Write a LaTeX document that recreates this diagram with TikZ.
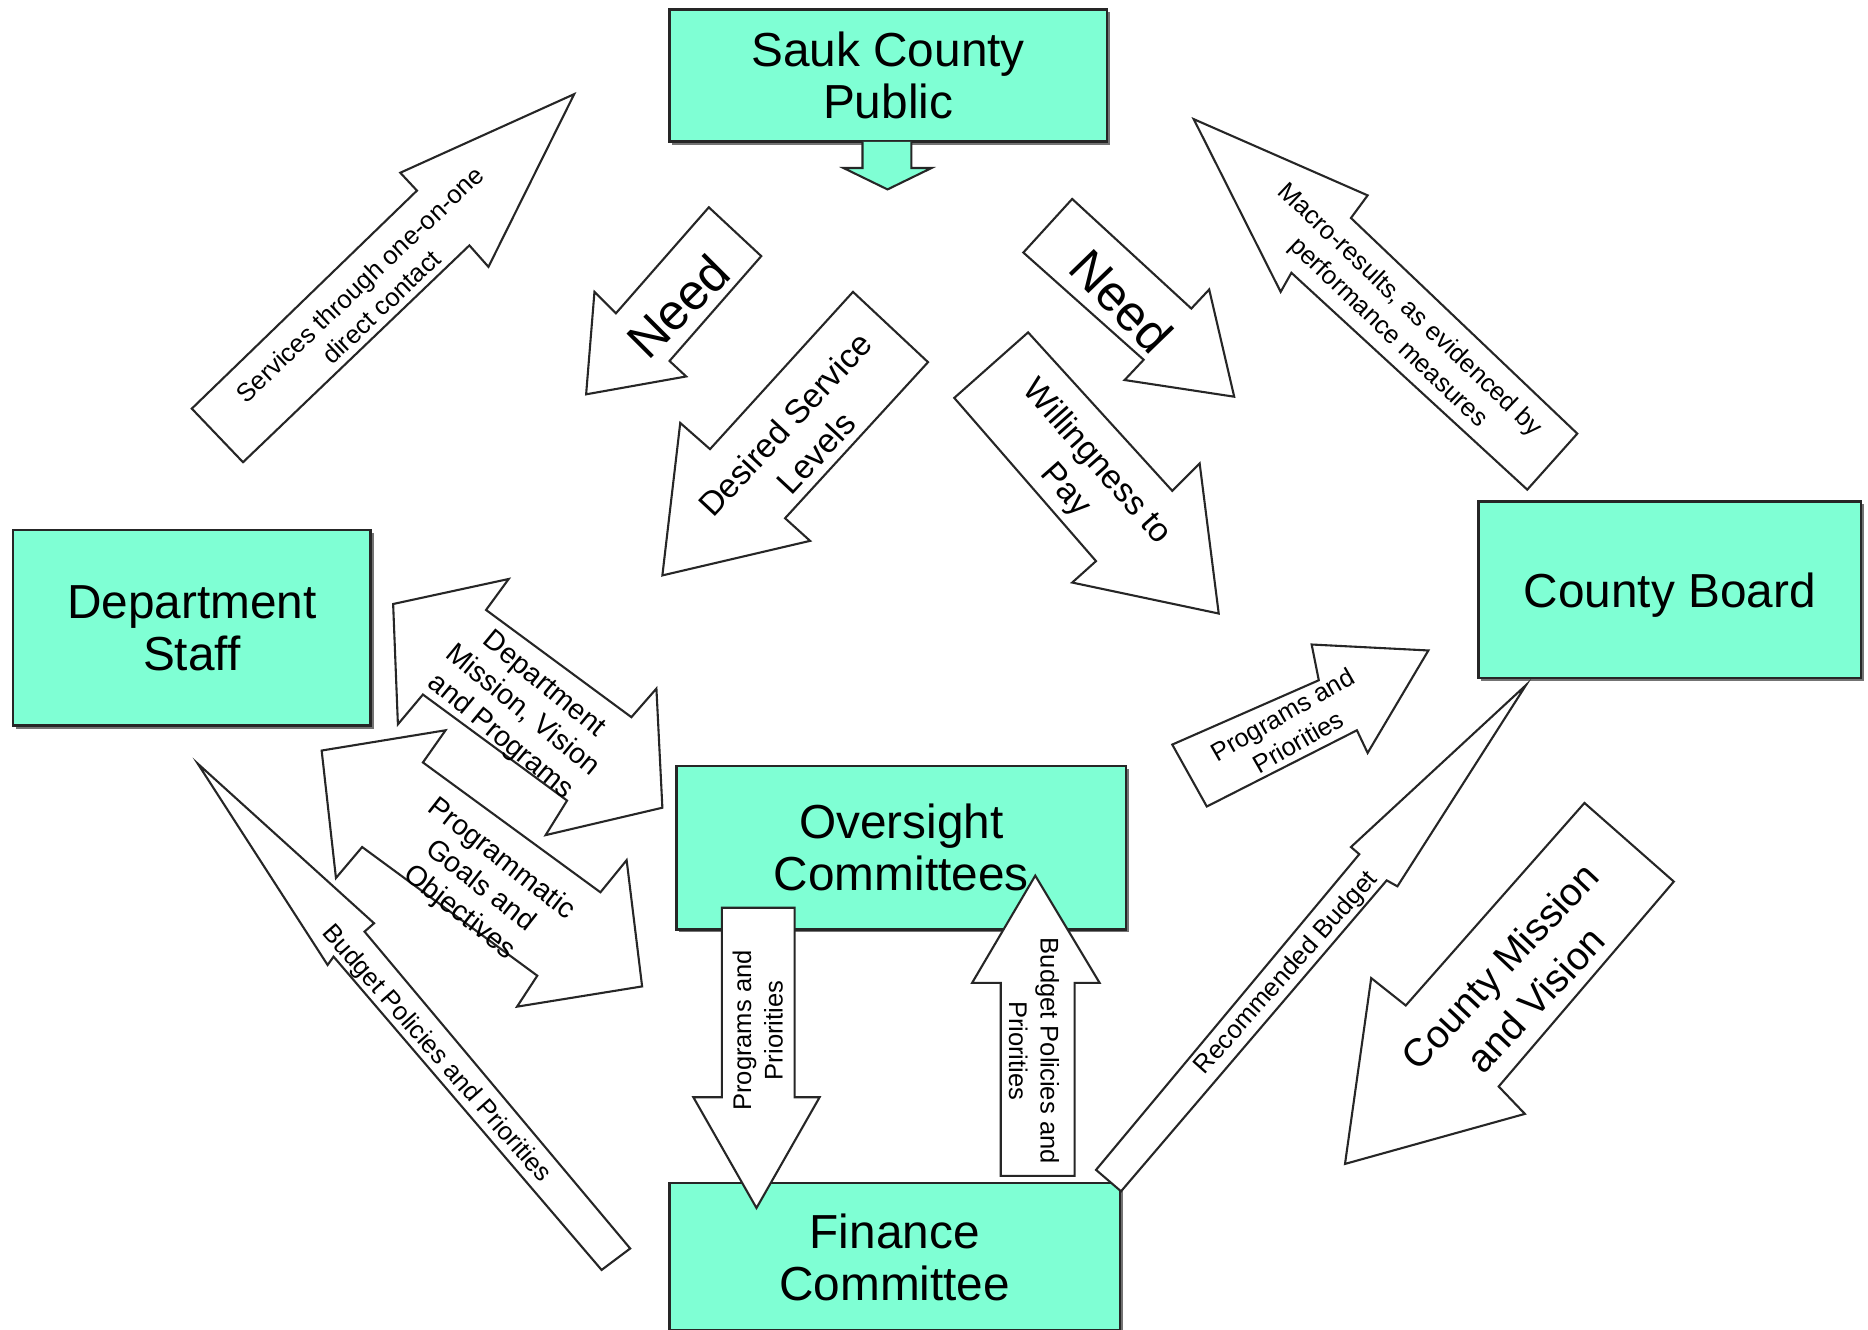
\documentclass[tikz,border=0pt]{standalone}
\usepackage{fontspec}
\setmainfont{Liberation Sans}
\usetikzlibrary{shadows}
\definecolor{boxteal}{RGB}{127,255,212}
\tikzset{
  unitbox/.style={draw=black!85, line width=0.65pt, fill=boxteal, align=center, inner sep=0pt,
    text depth=0pt, font=\fontsize{11.4}{12.4}\selectfont,
    drop shadow={shadow xshift=0.7pt, shadow yshift=-0.7pt, fill=black!55, opacity=1}},
  flow/.style={draw=black!85, line width=0.5pt, fill=white, line join=miter},
  lbltiny/.style={align=center, inner sep=0pt, font=\fontsize{6.1}{7.5}\selectfont},
  lblsmall/.style={align=center, inner sep=0pt, font=\fontsize{6.8}{8.1}\selectfont},
  lblmid/.style={align=center, inner sep=0pt, font=\fontsize{8}{10}\selectfont},
  lblbig/.style={align=center, inner sep=0pt, font=\fontsize{9.3}{11.7}\selectfont},
  lblneed/.style={align=center, inner sep=0pt, font=\fontsize{12}{14}\selectfont}
}
\begin{document}
\begin{tikzpicture}[x=0.01cm,y=-0.01cm]
\useasboundingbox (0,0) rectangle (1568,1115.6);

% the five bodies
\node[unitbox, minimum width=3.67cm, minimum height=1.11cm] (sauk) at (745.5,63.5) {Sauk County\\Public};
\node[unitbox, minimum width=3.00cm, minimum height=1.64cm] (dept) at (161,527) {Department\\Staff};
\node[unitbox, minimum width=3.21cm, minimum height=1.48cm] (board) at (1401.5,495) {County Board};
\node[unitbox, minimum width=3.77cm, minimum height=1.37cm] (oversight) at (756.5,711.5) {Oversight\\Committees};
\node[unitbox, minimum width=3.78cm, minimum height=1.24cm] (finance) at (751,1055) {Finance\\Committee};

% small arrow under the public
\draw[flow, fill=boxteal] (724,119) -- (724,141) -- (708,141) -- (745,159) -- (782,141) -- (765,141) -- (765,119);

% block arrows
\draw[flow] (161,343) -- (350,160) -- (336,145) -- (482,79) -- (410,224) -- (394,206) -- (204,388) -- cycle;
\draw[flow] (595,174) -- (517,263) -- (499,245) -- (492,331) -- (576,316) -- (562,303) -- (639,215) -- cycle;
\draw[flow] (716,245) -- (596,377) -- (571,355) -- (556,483) -- (680,454) -- (659,435) -- (779,304) -- cycle;
\draw[flow] (900,167) -- (1000,259) -- (1015,243) -- (1036,333) -- (944,319) -- (960,302) -- (859,212) -- cycle;
\draw[flow] (863,279) -- (984,412) -- (1007,389) -- (1023,515) -- (900,489) -- (920,471) -- (801,334) -- cycle;
\draw[flow] (1324,364) -- (1134,183) -- (1148,164) -- (1002,100) -- (1075,245) -- (1084,229) -- (1282,411) -- cycle;
\draw[flow] (330,507) -- (427,486) -- (408,512) -- (530,602) -- (551,578) -- (556,678) -- (458,701) -- (476,672) -- (355,583) -- (334,608) -- cycle;
\draw[flow] (270,630) -- (374,613) -- (355,640) -- (504,749) -- (526,722) -- (539,828) -- (434,845) -- (451,819) -- (304,711) -- (282,737) -- cycle;
\draw[flow] (166,641) -- (314,775) -- (306,782) -- (529,1048) -- (505,1066) -- (280,803) -- (275,810) -- cycle;
\draw[flow] (606,762) -- (606,921) -- (582,921) -- (635,1014) -- (688,921) -- (667,921) -- (667,762) -- cycle;
\draw[flow] (840,987) -- (840,825) -- (816,825) -- (869,735) -- (923,825) -- (902,825) -- (902,987) -- cycle;
\draw[flow] (941,1000) -- (1164,739) -- (1173,744) -- (1281,575) -- (1134,711) -- (1141,717) -- (920,982) -- cycle;
\draw[flow] (984,625) -- (1107,571) -- (1101,541) -- (1199,546) -- (1148,632) -- (1139,613) -- (1013,677) -- cycle;
\draw[flow] (1330,674) -- (1180,844) -- (1151,821) -- (1129,977) -- (1280,935) -- (1258,912) -- (1405,740) -- cycle;

% texts on the arrows
\node[lbltiny, rotate=43.5] (lblservices) at (311,248) {Services through one-on-one\\direct contact};
\node[lblneed, rotate=45] (lblneedl) at (569,257) {Need};
\node[lblmid, rotate=47] (lbldesired) at (672,368) {Desired Service\\Levels};
\node[lblneed, rotate=-46] (lblneedr) at (941.5,253) {Need};
\node[lblmid, rotate=-48.5] (lblwilling) at (907,400) {Willingness to\\Pay};
\node[lbltiny, rotate=-43.6] (lblmacro) at (1174,270) {Macro-results, as evidenced by\\performance measures};
\node[lblsmall, rotate=-39.6] (lbldeptmission) at (438,597) {Department\\Mission, Vision\\and Programs};
\node[lblsmall, rotate=-38] (lblprogrammatic) at (403,744) {Programmatic\\Goals and\\Objectives};
\node[lbltiny, rotate=-48.7] (lblbudgetdiag) at (366,885) {Budget Policies and Priorities};
\node[lbltiny, rotate=90] (lblprogdown) at (636,865) {Programs and\\Priorities};
\node[lbltiny, rotate=-90] (lblbudgetup) at (868,882) {Budget Policies and\\Priorities};
\node[lbltiny, rotate=48.5] (lblrecommended) at (1080,817) {Recommended Budget};
\node[lbltiny, rotate=29.9] (lblprogright) at (1083,611) {Programs and\\Priorities};
\node[lblbig, rotate=46.8] (lblmission) at (1274,825) {County Mission\\and Vision};

\end{tikzpicture}
\end{document}
